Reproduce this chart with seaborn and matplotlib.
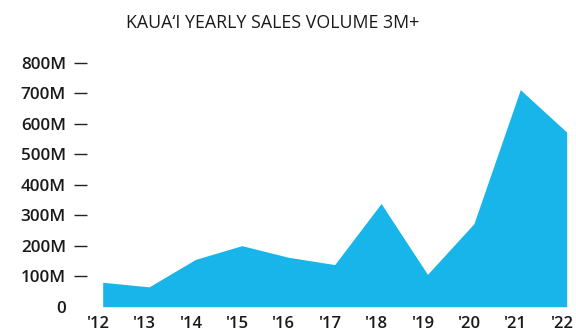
import matplotlib
matplotlib.use("Agg")
import matplotlib.pyplot as plt
import matplotlib.transforms as mtransforms
import seaborn as sns
import pandas as pd

years = ["'12", "'13", "'14", "'15", "'16", "'17", "'18", "'19", "'20", "'21", "'22"]
volume_m = [80, 65, 155, 200, 162, 138, 338, 106, 272, 711, 572]
y_ticks = [0, 100, 200, 300, 400, 500, 600, 700, 800]
y_labels = ["0", "100M", "200M", "300M", "400M", "500M", "600M", "700M", "800M"]

sns.set_style("white")
plt.rcParams["font.family"] = ["Open Sans", "DejaVu Sans"]

df = pd.DataFrame({"pos": range(len(years)), "volume": volume_m})

fig = plt.figure(figsize=(5.76, 3.33), dpi=100)
ax = fig.add_axes([102.7 / 576, 1 - 306.7 / 333, (566.7 - 102.7) / 576, (306.7 - 62.5) / 333])

color = "#17b5e9"
sns.lineplot(data=df, x="pos", y="volume", ax=ax, color=color, linewidth=0)
ax.fill_between(df["pos"], 0, df["volume"], color=color, linewidth=0)

ax.set_xlim(0, len(years) - 1)
ax.set_ylim(0, 800)
ax.set_xticks(range(len(years)))
ax.set_xticklabels(years)
ax.set_yticks(y_ticks)
ax.set_yticklabels(y_labels)
ax.set_xlabel("")
ax.set_ylabel("")

for s in ax.spines.values():
    s.set_visible(False)
ax.spines["left"].set_position(("outward", 11.3))

ink = "#1a1a1a"
ax.tick_params(axis="y", left=True, length=9.4, width=1.0, color="#222222",
               pad=5.8, labelsize=12.3, labelcolor=ink)
ax.tick_params(axis="x", bottom=False, pad=3.2, labelsize=12, labelcolor=ink)
for lbl in ax.get_xticklabels() + ax.get_yticklabels():
    lbl.set_fontweight("semibold")
ax.yaxis.get_major_ticks()[0].tick1line.set_visible(False)

# nudge year labels left so the apostrophe hangs outside the point
shift = mtransforms.ScaledTranslation(-4.5 / 100, 0, fig.dpi_scale_trans)
for lbl in ax.get_xticklabels():
    lbl.set_transform(lbl.get_transform() + shift)

fig.text(273 / 576, 1 - 23 / 333, "KAUA\u2018I YEARLY SALES VOLUME 3M+",
         ha="center", va="center", fontsize=12.8, fontweight="medium", color=ink)

fig.savefig("out.png", dpi=100)
